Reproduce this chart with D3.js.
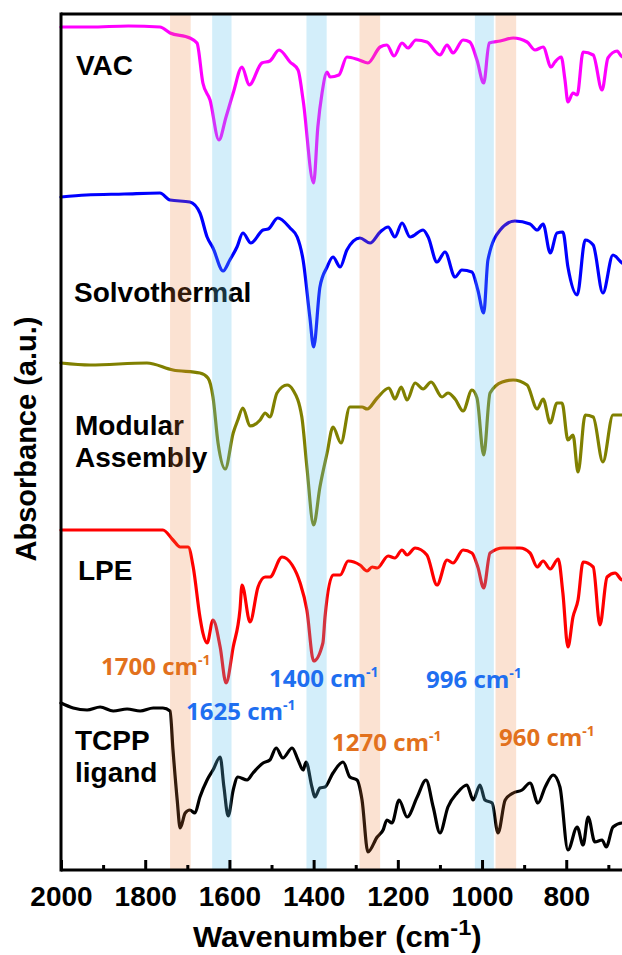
<!DOCTYPE html>
<html>
<head>
<meta charset="utf-8">
<script src="https://cdn.jsdelivr.net/npm/d3@7/dist/d3.min.js"></script>
<style>
  html, body { margin: 0; padding: 0; background: #fff; }
  svg { display: block; }
  text { font-family: "Liberation Sans", Arial, sans-serif; font-weight: bold; }
  .note { font-family: "Open Sans", "Liberation Sans", sans-serif; font-weight: bold; }
</style>
</head>
<body>
<svg id="chart" width="622" height="955"></svg>
<script>
// FTIR spectra, stacked with vertical offsets (absorbance in arbitrary units).
// Each series: [wavenumber (cm-1), offset absorbance]
const seriesNames = ["VAC", "Solvothermal", "Modular Assembly", "LPE", "TCPP ligand"];
const seriesColors = ["#ff00ff", "#0000ff", "#808000", "#ff0000", "#000000"];

const vac = [
  [2000,843],[1931,843],[1840,844],[1765,843],[1741,837],[1694,832],[1677,827],[1663,787],
  [1646,770],[1625,730],[1608,753],[1591,777],[1570,803],[1553,785],[1523,807],[1504,809],
  [1482,820],[1456,808],[1437,800],[1425,770],[1400,687],[1390,743],[1380,777],[1368,798],
  [1361,793],[1340,795],[1321,813],[1292,810],[1271,807],[1242,823],[1226,825],[1209,814],
  [1190,827],[1176,822],[1157,830],[1131,828],[1100,815],[1083,825],[1069,817],[1045,830],
  [1029,828],[1012,810],[996,787],[983,827],[957,829],[926,832],[893,828],[874,820],
  [855,823],[836,803],[827,808],[812,813],[803,790],[796,768],[784,777],[774,775],
  [760,818],[736,815],[715,780],[701,812],[679,819],[667,813],[650,815]
];
const solvothermal = [
  [2000,673],[1940,675],[1850,676],[1765,677],[1741,670],[1694,668],[1670,657],[1653,633],
  [1639,622],[1615,599],[1599,610],[1582,623],[1568,637],[1549,627],[1520,640],[1508,641],
  [1485,652],[1456,642],[1439,633],[1425,610],[1409,553],[1400,523],[1385,583],[1368,603],
  [1354,613],[1337,603],[1321,620],[1290,632],[1266,627],[1242,638],[1223,643],[1207,633],
  [1190,647],[1171,633],[1140,640],[1128,633],[1107,608],[1088,618],[1064,593],[1048,600],
  [1024,598],[1010,580],[996,557],[986,610],[957,640],[922,649],[886,646],[869,640],
  [855,646],[838,617],[822,637],[808,638],[796,603],[774,575],[755,630],[736,625],
  [713,577],[689,615],[667,607],[650,605]
];
const modularAssembly = [
  [2000,507],[1931,505],[1796,507],[1734,500],[1670,497],[1651,492],[1639,473],[1627,427],
  [1610,401],[1591,437],[1580,450],[1568,462],[1551,444],[1527,450],[1515,457],[1504,453],
  [1487,477],[1463,485],[1449,480],[1428,453],[1416,403],[1400,345],[1385,383],[1368,417],
  [1354,443],[1335,427],[1314,463],[1285,463],[1273,461],[1249,472],[1221,482],[1207,471],
  [1192,483],[1178,470],[1159,487],[1140,481],[1121,488],[1095,473],[1081,477],[1064,471],
  [1045,459],[1024,480],[1012,472],[996,415],[981,477],[952,488],[926,490],[893,485],
  [869,461],[855,471],[838,447],[822,467],[810,467],[796,430],[784,435],[772,398],
  [755,455],[736,453],[713,408],[689,455],[667,455],[650,455]
];
const lpe = [
  [2000,340],[1758,340],[1734,330],[1717,323],[1698,323],[1686,303],[1670,253],[1663,237],
  [1653,227],[1639,250],[1622,223],[1608,187],[1591,223],[1575,260],[1570,285],[1551,248],
  [1532,283],[1515,293],[1504,293],[1475,313],[1451,305],[1432,287],[1416,260],[1400,209],
  [1378,227],[1373,253],[1354,295],[1337,295],[1318,309],[1290,305],[1273,299],[1261,303],
  [1249,302],[1223,314],[1207,312],[1190,320],[1178,315],[1159,322],[1131,315],[1107,285],
  [1083,310],[1069,307],[1045,320],[1024,317],[1010,303],[996,282],[981,317],[950,322],
  [910,322],[886,317],[869,303],[855,309],[838,301],[819,311],[808,277],[796,223],
  [784,253],[772,270],[760,308],[736,303],[720,245],[703,293],[684,297],[667,290],[650,290]
];
const tcppLigand = [
  [2000,167],[1971,162],[1938,160],[1907,163],[1876,159],[1843,161],[1812,159],[1781,162],
  [1758,162],[1741,159],[1734,120],[1724,70],[1717,42],[1705,57],[1694,60],[1682,57],
  [1670,73],[1653,90],[1639,100],[1622,113],[1613,83],[1603,54],[1591,80],[1580,93],
  [1558,90],[1544,97],[1520,107],[1504,110],[1489,122],[1473,112],[1451,122],[1437,110],
  [1425,100],[1418,108],[1404,83],[1397,73],[1385,82],[1373,83],[1354,97],[1330,108],
  [1314,93],[1297,90],[1285,70],[1271,18],[1249,33],[1235,40],[1226,50],[1214,47],
  [1197,70],[1178,53],[1154,73],[1133,90],[1116,63],[1100,37],[1081,63],[1059,77],
  [1036,85],[1021,70],[1005,85],[993,70],[976,67],[962,37],[945,70],[926,77],
  [905,80],[886,87],[867,67],[850,83],[831,95],[815,83],[796,20],[774,43],
  [760,25],[748,53],[732,28],[715,30],[705,23],[689,43],[667,47],[650,47]
];
const seriesData = [vac, solvothermal, modularAssembly, lpe, tcppLigand];

// Highlighted absorption bands (wavenumber ranges) and their labels
const bandLabels = ["1700", "1625", "1400", "1270", "996", "960"];
const bandFrom   = [1741, 1641, 1417, 1291, 1017, 968];
const bandTo     = [1692, 1595, 1369, 1242, 972, 919];
const bandKinds  = ["orange", "blue", "blue", "orange", "blue", "orange"];

// Axis ticks
const majorTicks = [2000, 1800, 1600, 1400, 1200, 1000, 800];
const minorTicks = [1900, 1700, 1500, 1300, 1100, 900, 700];

const svg = d3.select("#chart");
const W = 622, H = 955;
const plot = { left: 61, right: 629.4, top: 14, bottom: 870 };

const x = d3.scaleLinear().domain([2000, 650]).range([plot.left, plot.right]);
const y = d3.scaleLinear().domain([0, 856]).range([plot.bottom, plot.top]);

svg.append("rect").attr("width", W).attr("height", H).attr("fill", "#fff");

// Spectra
const line = d3.line()
  .x(d => x(d[0]))
  .y(d => y(d[1]))
  .curve(d3.curveMonotoneX);

const gLines = svg.append("g");
seriesData.forEach((s, i) => {
  gLines.append("path")
    .datum(s)
    .attr("d", line)
    .attr("fill", "none")
    .attr("stroke", seriesColors[i])
    .attr("stroke-width", 3.2)
    .attr("stroke-linejoin", "round")
    .attr("stroke-linecap", "round");
});

// Series names
const nameLayout = [
  { lines: ["VAC"], x: 76, y: 75 },
  { lines: ["Solvothermal"], x: 74, y: 302 },
  { lines: ["Modular", "Assembly"], x: 75, y: 435 },
  { lines: ["LPE"], x: 78, y: 580 },
  { lines: ["TCPP", "ligand"], x: 75, y: 750 }
];
const gNames = svg.append("g");
seriesNames.forEach((name, i) => {
  const L = nameLayout[i];
  const t = gNames.append("text")
    .attr("x", L.x).attr("y", L.y)
    .attr("font-size", 28)
    .attr("fill", "#000");
  L.lines.forEach((ln, k) => {
    t.append("tspan").attr("x", L.x).attr("dy", k === 0 ? 0 : 32).text(ln);
  });
});

// Bands, translucent over the spectra
const bandFill = { orange: "#ed7d31", blue: "#5bc0eb" };
const bandOpacity = { orange: 0.22, blue: 0.27 };
const gBands = svg.append("g");
bandLabels.forEach((lab, i) => {
  gBands.append("rect")
    .attr("x", x(bandFrom[i]))
    .attr("width", x(bandTo[i]) - x(bandFrom[i]))
    .attr("y", plot.top)
    .attr("height", plot.bottom - plot.top)
    .attr("fill", bandFill[bandKinds[i]])
    .attr("fill-opacity", bandOpacity[bandKinds[i]]);
});

// Band annotations
const noteColor = { orange: "#e2711d", blue: "#1f6ff0" };
const noteLayout = [
  { x: 101, y: 675 }, { x: 186, y: 720 }, { x: 269, y: 687 },
  { x: 332, y: 751 }, { x: 426, y: 688 }, { x: 499, y: 746 }
];
const gNotes = svg.append("g");
bandLabels.forEach((lab, i) => {
  const P = noteLayout[i];
  const t = gNotes.append("text")
    .attr("class", "note")
    .attr("x", P.x).attr("y", P.y)
    .attr("font-size", 24)
    .attr("fill", noteColor[bandKinds[i]]);
  t.append("tspan").text(lab + " cm");
  t.append("tspan").attr("font-size", 14).attr("dy", -10).text("-1");
});

// Axes
const gx = svg.append("g").attr("transform", `translate(0,${plot.bottom})`);
gx.call(d3.axisBottom(x).tickValues(majorTicks).tickSize(-10).tickFormat(d3.format("d")));
const gxm = svg.append("g").attr("transform", `translate(0,${plot.bottom})`);
gxm.call(d3.axisBottom(x).tickValues(minorTicks).tickSize(-5).tickFormat(""));
[gx, gxm].forEach(g => {
  g.select(".domain").remove();
  g.selectAll(".tick line").attr("stroke", "#000").attr("stroke-width", 3);
});
gx.selectAll(".tick text")
  .attr("y", 36).attr("dy", 0)
  .attr("font-size", 28)
  .attr("font-family", "'Liberation Sans', Arial, sans-serif")
  .attr("font-weight", "bold")
  .attr("fill", "#000");

// Frame: left axis, bottom axis, top border
const frame = svg.append("g").attr("stroke", "#000").attr("stroke-width", 3).attr("fill", "none");
frame.append("line").attr("x1", plot.left).attr("x2", plot.left).attr("y1", plot.top - 1.5).attr("y2", plot.bottom + 1.5);
frame.append("line").attr("x1", plot.left).attr("x2", plot.right).attr("y1", plot.bottom).attr("y2", plot.bottom);
frame.append("line").attr("x1", plot.left).attr("x2", plot.right).attr("y1", plot.top).attr("y2", plot.top);

// Axis titles
const xt = svg.append("text")
  .attr("x", 193).attr("y", 947)
  .attr("font-size", 29)
  .attr("fill", "#000")
  .attr("transform", "translate(193,0) scale(1.07,1) translate(-193,0)");
xt.append("tspan").text("Wavenumber (cm");
xt.append("tspan").attr("font-size", 22).attr("dy", -12).text("-1");
xt.append("tspan").attr("dy", 12).text(")");

svg.append("text")
  .attr("transform", "translate(36,439) rotate(-90)")
  .attr("text-anchor", "middle")
  .attr("font-size", 29)
  .attr("fill", "#000")
  .text("Absorbance (a.u.)");
</script>
</body>
</html>
